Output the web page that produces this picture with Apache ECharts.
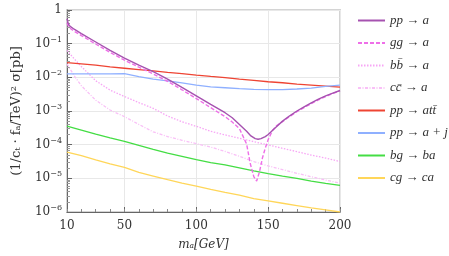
<!DOCTYPE html>
<html><head><meta charset="utf-8">
<script src="https://cdn.jsdelivr.net/npm/echarts@6/dist/echarts.min.js"></script>
<style>html,body{margin:0;padding:0;background:#fff}#c{width:449px;height:256px}</style>
</head><body><div id="c"></div>
<script>
// ---- data ----
const seriesNames = ['pp \u2192 a','gg \u2192 a','bb\u0304 \u2192 a','cc\u0304 \u2192 a','pp \u2192 att\u0304','pp \u2192 a + j','bg \u2192 ba','cg \u2192 ca'];
const xTickLabels = [10, 50, 100, 150, 200];
const xPP = [10,11,12,13,15,20,30,40,50,60,70,80,90,100,110,120,125,130,135,138,141,143,145,148,150,155,160,165,170,175,180,185,190,195,200];
const yPP = [0.55,0.38,0.331,0.302,0.269,0.200,0.112,0.063,0.0372,0.0229,0.0148,0.0089,0.0050,0.00282,0.00158,8.9e-4,6.3e-4,4.0e-4,2.5e-4,1.82e-4,1.51e-4,1.45e-4,1.51e-4,1.74e-4,2.0e-4,3.16e-4,5.0e-4,7.2e-4,1.0e-3,1.32e-3,1.74e-3,2.24e-3,2.82e-3,3.39e-3,4.07e-3];
const xGG = [10,11,12,13,15,20,30,40,50,60,70,80,90,100,110,120,125,130,135,137.5,140,142,144,146,148,150,153,156,160,165,170,175,180,185,190,195,200];
const yGG = [0.417,0.331,0.295,0.269,0.234,0.174,0.0977,0.055,0.0324,0.020,0.0126,0.0076,0.00427,0.00234,0.00126,6.8e-4,4.7e-4,3.0e-4,1.05e-4,2.8e-5,1.12e-5,8.3e-6,1.58e-5,4.0e-5,7.9e-5,1.41e-4,2.63e-4,3.7e-4,4.8e-4,6.9e-4,9.5e-4,1.26e-3,1.66e-3,2.14e-3,2.69e-3,3.31e-3,3.98e-3];
const xStd = [10,15,20,30,40,50,60,70,80,90,100,110,120,130,140,150,160,170,180,190,200];
const yBB = [0.063,0.0355,0.0209,0.0079,0.00417,0.00269,0.00178,0.0012,7.1e-4,4.8e-4,3.5e-4,2.5e-4,1.95e-4,1.55e-4,1.23e-4,9.8e-5,7.8e-5,6.2e-5,4.9e-5,4.0e-5,3.16e-5];
const yCC = [0.0251,0.0112,0.00562,0.00209,0.00107,6.8e-4,4.0e-4,2.4e-4,1.74e-4,1.35e-4,1.07e-4,8.5e-5,6.3e-5,4.5e-5,3.16e-5,2.34e-5,1.82e-5,1.41e-5,1.12e-5,8.9e-6,7.2e-6];
const xTen = [10,20,30,40,50,60,70,80,90,100,110,120,130,140,150,160,170,180,190,200];
const yTT = [0.0275,0.0251,0.0229,0.0204,0.0186,0.017,0.0155,0.0141,0.0129,0.0117,0.0107,0.0098,0.0089,0.0081,0.0074,0.0069,0.0063,0.0059,0.0055,0.0051];
const yAJ = [0.0126,0.0126,0.0126,0.0126,0.0129,0.0105,0.0089,0.0078,0.0068,0.0059,0.0052,0.0049,0.0046,0.0044,0.0043,0.0043,0.0045,0.0048,0.0054,0.0059];
const yBG = [3.55e-4,2.69e-4,2.04e-4,1.58e-4,1.26e-4,9.5e-5,7.2e-5,5.6e-5,4.5e-5,3.6e-5,2.95e-5,2.5e-5,2.04e-5,1.66e-5,1.38e-5,1.17e-5,1.0e-5,8.3e-6,7.1e-6,6.2e-6];
const yCG = [6.0e-5,4.7e-5,3.55e-5,2.7e-5,2.1e-5,1.51e-5,1.17e-5,9.1e-6,7.2e-6,5.9e-6,4.7e-6,3.8e-6,3.16e-6,2.5e-6,2.14e-6,1.82e-6,1.55e-6,1.32e-6,1.15e-6,1.0e-6];
const yTickValues = [1e-6,1e-5,1e-4,1e-3,1e-2,1e-1,1];

// ---- build ----
const pair = (xs, ys) => xs.map((x, i) => [x, ys[i]]);
const yMinor = [];
for (let d = -6; d < 0; d++) for (let k = 2; k <= 9; k++) yMinor.push(+(k * Math.pow(10, d)).toPrecision(3));
const xMinor = [];
for (let v = 10; v <= 200; v += 10) xMinor.push(v);

const serif = 'DejaVu Serif';
const lserif = 'Liberation Serif';
const colors = ['#a652b0','#ee6fe8','#f7a6f5','#f9c0f7','#ee4433','#8fb0ff','#44dd44','#ffd659'];
const types = ['solid',[4,2],[1.5,1.5],[3,1.5,1,1.5],'solid','solid','solid','solid'];
const datas = [pair(xPP,yPP),pair(xGG,yGG),pair(xStd,yBB),pair(xStd,yCC),pair(xTen,yTT),pair(xTen,yAJ),pair(xTen,yBG),pair(xTen,yCG)];

const chart = echarts.init(document.getElementById('c'), null, {renderer:'canvas'});
chart.setOption({
  animation:false,
  grid:{left:67,right:109,top:10,bottom:43,show:true,borderColor:'#d4d4d4',borderWidth:2},
  legend:{orient:'vertical',left:352,top:9,itemWidth:27,itemHeight:10,itemGap:9.5,
    itemStyle:{opacity:0},
    textStyle:{fontFamily:lserif,fontStyle:'italic',fontSize:13,color:'#333'},
    data:seriesNames},
  xAxis:[{type:'value',min:10,max:200,
    axisLine:{lineStyle:{color:'#666',width:1}},
    axisTick:{inside:true,length:5,customValues:xTickLabels,lineStyle:{color:'#666'}},
    axisLabel:{customValues:xTickLabels,fontFamily:serif,fontSize:12,color:'#333',margin:8},
    splitLine:{show:true,lineStyle:{color:'#e8e8e8',width:1}},
    name:'m\u2090[GeV]',nameLocation:'middle',nameGap:27,
    nameTextStyle:{fontFamily:serif,fontSize:12,color:'#333',fontStyle:'italic'}},
   {type:'value',min:10,max:200,position:'bottom',gridIndex:0,
    axisLine:{show:false},
    axisTick:{inside:true,length:3,customValues:xMinor,lineStyle:{color:'#888'}},
    axisLabel:{show:false},splitLine:{show:false}}],
  yAxis:[{type:'log',logBase:10,min:1e-6,max:1,
    axisLine:{show:true,lineStyle:{color:'#666',width:1}},
    axisTick:{show:true,inside:true,length:5,customValues:yTickValues,lineStyle:{color:'#666'}},
    axisLabel:{customValues:yTickValues,fontFamily:serif,fontSize:12,color:'#333',margin:5,
      formatter:function(v){const e=Math.round(Math.log10(v)); if(e===0) return '{b|1}'; return '{b|10}{s|'+(e<0?'\u2212':'')+Math.abs(e)+'}';},
      rich:{b:{fontFamily:serif,fontSize:12,color:'#333'},s:{fontFamily:serif,fontSize:8,color:'#333',padding:[0,0,8,0]}}},
    splitLine:{show:true,lineStyle:{color:'#e8e8e8',width:1}},
    name:'(1/c\u209C \u00B7 f\u2090/TeV)\u00B2 \u03C3[pb]',nameLocation:'middle',nameGap:44,nameRotate:90,
    nameTextStyle:{fontFamily:serif,fontSize:13,color:'#333'}},
   {type:'log',logBase:10,min:1e-6,max:1,position:'left',
    axisLine:{show:false},
    axisTick:{show:true,inside:true,length:3,customValues:yMinor,lineStyle:{color:'#999'}},
    axisLabel:{show:false},splitLine:{show:false}}],
  series: seriesNames.map((n,i)=>({
    name:n,type:'line',xAxisIndex:0,yAxisIndex:0,showSymbol:false,symbol:'none',smooth:false,
    data:datas[i],z: 10 - (i===0?0:i===1?1:2),
    lineStyle:{color:colors[i],width:i<2?1.4:1.3,type:types[i]},
    itemStyle:{color:colors[i]}
  }))
});
</script></body></html>
